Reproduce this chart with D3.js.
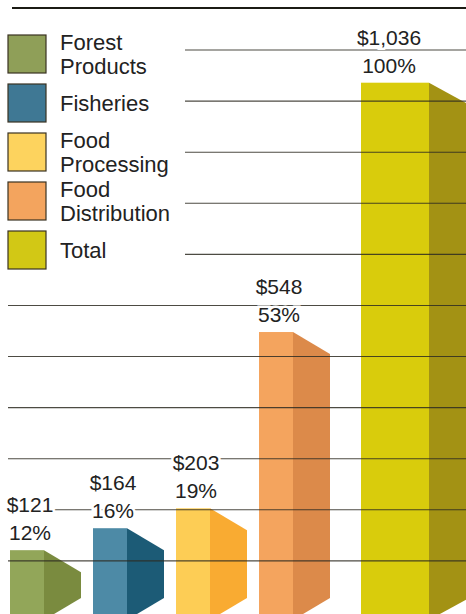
<!DOCTYPE html>
<html>
<head>
<meta charset="utf-8">
<script src="https://cdn.jsdelivr.net/npm/d3@7"></script>
<style>
  body { margin: 0; background: #fff; }
  svg { display: block; }
  text { font-family: "Liberation Sans", Arial, Helvetica, sans-serif; fill: #222; }
</style>
</head>
<body>
<script>
// values in millions of dollars
const categories = ["Forest Products", "Fisheries", "Food Processing", "Food Distribution", "Total"]
const legendLines = [["Forest", "Products"], ["Fisheries"], ["Food", "Processing"], ["Food", "Distribution"], ["Total"]]
const values = [121, 164, 203, 548, 1036]
const valueLabels = ["$121", "$164", "$203", "$548", "$1,036"]
const shareLabels = ["12%", "16%", "19%", "53%", "100%"]
const gridTicks = [100, 200, 300, 400, 500, 600, 700, 800, 900, 1000, 1100]

const m = { width: 466, height: 614 }

const colors = {
  "Forest Products":   { front: "#92a659", side: "#7a8b3f", swatch: "#8f9f58" },
  "Fisheries":         { front: "#4d8aa6", side: "#1c5b76", swatch: "#3f7894" },
  "Food Processing":   { front: "#fdcd55", side: "#f9ab32", swatch: "#fdd35e" },
  "Food Distribution": { front: "#f4a45e", side: "#dc8a4a", swatch: "#f3a45e" },
  "Total":             { front: "#d9cc0c", side: "#a39214", swatch: "#d2c815" }
}

const svg = d3.select("body").append("svg")
  .attr("width", m.width)
  .attr("height", m.height)

const y = d3.scaleLinear().domain([0, 1100]).range([612, 50])

const x = d3.scaleBand().domain(categories).range([10, 425])

const frontW = d => d === "Total" ? 68 : 34
const sideW = d => d === "Total" ? 40 : 37
const left = d => x(d) + (d === "Total" ? 19 : 0)
const labelX = d => left(d) + frontW(d) / 2 + (d === "Total" ? -6 : 3)
const drop = 22
const bottom = 620

const data = categories.map((c, i) => ({
  cat: c, value: values[i], label: valueLabels[i], share: shareLabels[i]
}))

// bars: front face + side face with chamfered ends
const bars = svg.append("g")

bars.selectAll(".side")
  .data(data)
  .enter()
  .append("path")
    .attr("fill", d => colors[d.cat].side)
    .attr("d", d => {
      const x0 = left(d.cat) + frontW(d.cat)
      const x1 = x0 + sideW(d.cat)
      const top = y(d.value)
      return d3.line()([[x0, top], [x1, top + drop], [x1, bottom - drop], [x0, bottom]]) + "Z"
    })

bars.selectAll(".front")
  .data(data)
  .enter()
  .append("rect")
    .attr("x", d => left(d.cat))
    .attr("y", d => y(d.value))
    .attr("width", d => frontW(d.cat))
    .attr("height", d => bottom - y(d.value))
    .attr("fill", d => colors[d.cat].front)

// rules, drawn on top of the bars
svg.append("line")
  .attr("x1", 12).attr("x2", m.width)
  .attr("y1", 8).attr("y2", 8)
  .attr("stroke", "#1b1b14")
  .attr("stroke-width", 2.2)

svg.append("g").selectAll("line")
  .data(gridTicks)
  .enter()
  .append("line")
    .attr("x1", d => y(d) < 275 ? 185 : 8)
    .attr("x2", m.width)
    .attr("y1", d => y(d))
    .attr("y2", d => y(d))
    .attr("stroke", "#2e2c22")
    .attr("stroke-opacity", 0.85)
    .attr("stroke-width", 1.1)

// value labels, with a white halo that knocks out the rules
const labels = svg.append("g")
  .attr("text-anchor", "middle")
  .attr("font-size", 21)
  .attr("stroke", "#fff")
  .attr("stroke-width", 5)
  .attr("paint-order", "stroke")

labels.selectAll(".val")
  .data(data)
  .enter()
  .append("text")
    .attr("x", d => labelX(d.cat))
    .attr("y", d => y(d.value) - 38)
    .text(d => d.label)

labels.selectAll(".pct")
  .data(data)
  .enter()
  .append("text")
    .attr("x", d => labelX(d.cat))
    .attr("y", d => y(d.value) - 10)
    .text(d => d.share)

// legend
const legend = svg.append("g")
const item = legend.selectAll("g")
  .data(categories)
  .enter()
  .append("g")
    .attr("transform", (d, i) => `translate(8, ${35 + i * 49})`)

item.append("rect")
  .attr("width", 38)
  .attr("height", 38)
  .attr("fill", d => colors[d].swatch)
  .attr("stroke", "#3a3222")
  .attr("stroke-width", 1.2)

item.append("text")
  .attr("font-size", 22)
  .attr("x", 52)
  .selectAll("tspan")
  .data((d, i) => legendLines[i].map(t => ({ t, n: legendLines[i].length })))
  .enter()
  .append("tspan")
    .attr("x", 52)
    .attr("y", (d, j) => d.n === 1 ? 27 : 15 + j * 24)
    .text(d => d.t)
</script>
</body>
</html>
